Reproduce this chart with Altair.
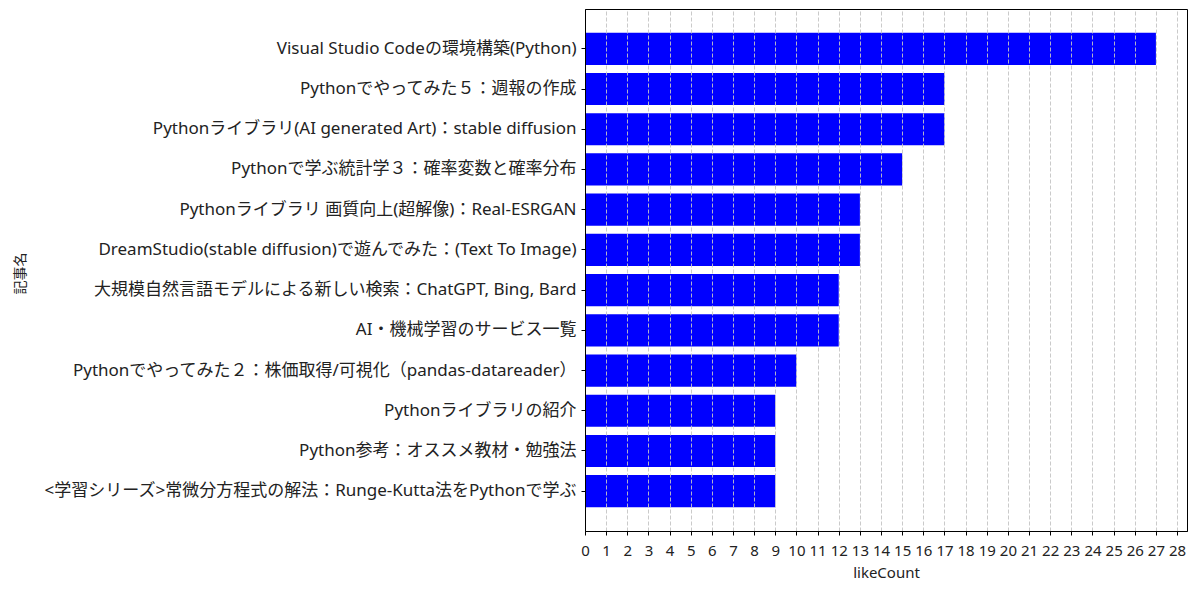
import altair as alt
import pandas as pd

titles = [
    "Visual Studio Codeの環境構築(Python)",
    "Pythonでやってみた５：週報の作成",
    "Pythonライブラリ(AI generated Art)：stable diffusion",
    "Pythonで学ぶ統計学３：確率変数と確率分布",
    "Pythonライブラリ 画質向上(超解像)：Real-ESRGAN",
    "DreamStudio(stable diffusion)で遊んでみた：(Text To Image)",
    "大規模自然言語モデルによる新しい検索：ChatGPT, Bing, Bard",
    "AI・機械学習のサービス一覧",
    "Pythonでやってみた２：株価取得/可視化（pandas-datareader）",
    "Pythonライブラリの紹介",
    "Python参考：オススメ教材・勉強法",
    "<学習シリーズ>常微分方程式の解法：Runge-Kutta法をPythonで学ぶ",
]
like_counts = [27, 17, 17, 15, 13, 13, 12, 12, 10, 9, 9, 9]
x_ticks = list(range(0, 29))

df = pd.DataFrame({"記事名": titles, "likeCount": like_counts})

FONT = "Noto Sans, Noto Sans CJK JP"

chart = (
    alt.Chart(df)
    .mark_bar(color="#0000ff")
    .encode(
        x=alt.X(
            "likeCount:Q",
            scale=alt.Scale(domain=[0, 28.47], nice=False, zero=True),
            axis=alt.Axis(
                values=x_ticks,
                title="likeCount",
                grid=True,
                gridDash=[4, 2],
                gridColor="#c4c4c4",
                gridOpacity=alt.condition("datum.value == 0", alt.value(0), alt.value(0.9)),
                gridWidth=1,
                zindex=1,
                domain=True,
                domainColor="#000000",
                tickColor="#000000",
                tickSize=4,
                labelFontSize=15,
                labelColor="#222222",
                labelPadding=8,
                labelFont=FONT,
                titleFont=FONT,
                titleFontSize=15,
                titleFontWeight="normal",
                titleColor="#222222",
                titlePadding=7,
                labelFlush=False,
                labelOverlap=False,
            ),
        ),
        y=alt.Y(
            "記事名:N",
            sort=titles,
            scale=alt.Scale(paddingInner=0.2, paddingOuter=0.59),
            axis=alt.Axis(
                title="記事名",
                zindex=1,
                domain=True,
                domainColor="#000000",
                tickColor="#000000",
                tickSize=4,
                labelFontSize=17,
                labelColor="#222222",
                labelPadding=5,
                labelFont=FONT,
                labelLimit=800,
                titleFont=FONT,
                titleFontSize=14,
                titleFontWeight="normal",
                titleColor="#222222",
                titleX=-558,
                titleY=264,
                titleAngle=270,
                titleBaseline="bottom",
            ),
        ),
    )
    .properties(
        width=602,
        height=522,
        autosize=alt.AutoSizeParams(type="none"),
        padding={"left": 577, "top": 1, "right": 5, "bottom": 60},
        background="white",
    )
    .configure_view(stroke="#000000", strokeWidth=1)
)

chart.save("out.html", embed_options={"renderer": "svg", "actions": False})
